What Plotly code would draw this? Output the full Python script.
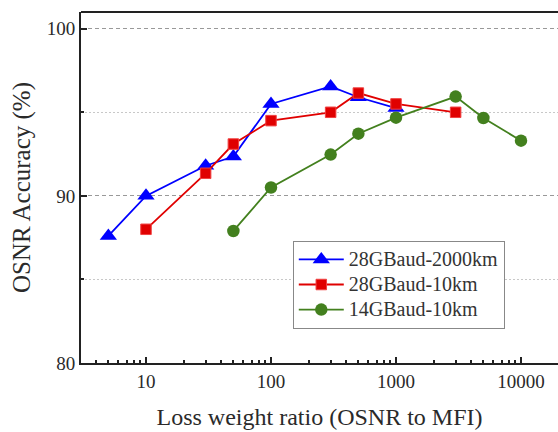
import plotly.graph_objects as go

# data
ratio_blue = [5, 10, 30, 50, 100, 300, 500, 1000]
acc_blue = [87.6, 90.0, 91.8, 92.35, 95.5, 96.55, 95.9, 95.25]
ratio_red = [10, 30, 50, 100, 300, 500, 1000, 3000]
acc_red = [88.0, 91.35, 93.1, 94.5, 95.0, 96.15, 95.5, 95.0]
ratio_green = [50, 100, 300, 500, 1000, 3000, 5000, 10000]
acc_green = [87.9, 90.5, 92.47, 93.72, 94.68, 95.94, 94.66, 93.3]

names = ["28GBaud-2000km", "28GBaud-10km", "14GBaud-10km"]
x_ticks = [10, 100, 1000, 10000]
x_ticktext = ["10", "100", "1000", "10000"]
x_minor = [4, 5, 6, 7, 8, 9, 20, 30, 40, 50, 60, 70, 80, 90,
           200, 300, 400, 500, 600, 700, 800, 900,
           2000, 3000, 4000, 5000, 6000, 7000, 8000, 9000]
y_ticks = [80, 90, 100]

FONT = "Liberation Serif"
AX = "#222222"
TXT = "#2a2a2a"


def big(s):
    return "<span style='font-size:20px'>" + s + "</span>"


fig = go.Figure()
fig.add_trace(go.Scatter(x=ratio_blue, y=acc_blue, name=big(names[0]), mode="lines+markers",
                         line=dict(color="#0000FF", width=1.8),
                         marker=dict(symbol="triangle-up", size=15, color="#0000FF")))
fig.add_trace(go.Scatter(x=ratio_red, y=acc_red, name=big(names[1]), mode="lines+markers",
                         line=dict(color="#E00000", width=1.8),
                         marker=dict(symbol="square", size=10.5, color="#E00000",
                                     line=dict(color="#F04040", width=1))))
fig.add_trace(go.Scatter(x=ratio_green, y=acc_green, name=big(names[2]), mode="lines+markers",
                         line=dict(color="#43801E", width=1.8),
                         marker=dict(symbol="circle", size=12.5, color="#43801E")))

fig.update_layout(
    width=558, height=432,
    margin=dict(l=81, r=0, t=12, b=69),
    paper_bgcolor="white", plot_bgcolor="white",
    font=dict(family=FONT, color=TXT, size=19),
    showlegend=True,
    legend=dict(x=0.444, y=0.348, xanchor="left", yanchor="top",
                bordercolor="#888888", borderwidth=1, bgcolor="white",
                font=dict(family=FONT, size=17, color="#333333"),
                tracegroupgap=0, itemwidth=45),
    xaxis=dict(type="log", range=[0.48, 4.296],
               tickvals=x_ticks, ticktext=x_ticktext,
               ticks="inside", ticklen=6, tickwidth=2, tickcolor=AX,
               showline=True, linecolor=AX, linewidth=2,
               showgrid=False, zeroline=False,
               tickfont=dict(family=FONT, size=19, color=TXT),
               title=dict(text="Loss weight ratio (OSNR to MFI)",
                          font=dict(family=FONT, size=24, color=TXT), standoff=17),
               minor=dict(tickmode="array", tickvals=x_minor, ticks="inside",
                          ticklen=3, tickwidth=1.5, tickcolor=AX, showgrid=False)),
    yaxis=dict(range=[80, 101], tickvals=y_ticks,
               ticks="inside", ticklen=6, tickwidth=2, tickcolor=AX,
               showline=True, linecolor=AX, linewidth=2,
               showgrid=True, gridcolor="#999999", gridwidth=1, griddash="4px,3px",
               zeroline=False,
               tickfont=dict(family=FONT, size=19, color=TXT),
               title=dict(text="OSNR Accuracy (%)",
                          font=dict(family=FONT, size=25, color=TXT), standoff=9),
               minor=dict(tickmode="array", tickvals=[85, 95], ticks="inside",
                          ticklen=3, tickwidth=1.5, tickcolor=AX,
                          showgrid=True, gridcolor="#C8C8C8", gridwidth=1, griddash="2px,2px")),
    shapes=[dict(type="line", xref="paper", yref="paper", x0=0, x1=1, y0=1, y1=1,
                 line=dict(color=AX, width=2))],
)

fig.write_html("out.html")
